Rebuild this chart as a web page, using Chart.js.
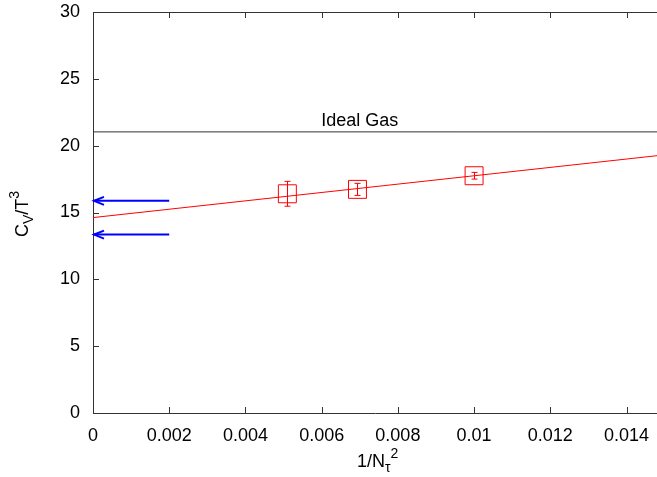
<!DOCTYPE html>
<html>
<head>
<meta charset="utf-8">
<script src="https://cdn.jsdelivr.net/npm/chart.js@4/dist/chart.umd.min.js"></script>
<style>
html, body { margin: 0; padding: 0; background: #fff; overflow: hidden; }
</style>
</head>
<body>
<canvas id="cvChart" width="657" height="477"></canvas>
<script>
// lattice points: 1/N_tau^2 for N_tau = 14, 12, 10
const invNtau2 = [0.0051, 0.00694, 0.01];
const cvT3 = [16.4, 16.73, 17.75];
const cvErr = [0.93, 0.45, 0.25];

// linear fit line (end points)
const fitX = [0, 0.0148];
const fitY = [14.62, 19.25];

const idealGas = 21.03;
const arrowY = [15.87, 13.35];
const arrowX = [0.002, 0];

const xTicks = [0, 0.002, 0.004, 0.006, 0.008, 0.01, 0.012, 0.014];
const xTickLabels = ['0', '0.002', '0.004', '0.006', '0.008', '0.01', '0.012', '0.014'];
const yTicks = [0, 5, 10, 15, 20, 25, 30];
const yTickLabels = ['0', '5', '10', '15', '20', '25', '30'];

const FONT = 'Liberation Sans, Arial, sans-serif';
const RED = 'rgb(255,0,0)';
const BLUE = 'rgb(0,0,255)';

const ctx = document.getElementById('cvChart').getContext('2d');

// inward ticks, top border, error bars, arrow heads, text labels
const extras = {
    id: 'extras',
    beforeDatasetsDraw(chart) {
        const c = chart.ctx, a = chart.chartArea;
        const xs = chart.scales.x, ys = chart.scales.y;
        c.save();
        c.strokeStyle = '#333';
        c.lineWidth = 1;
        c.beginPath();
        c.moveTo(a.left, a.top + 0.5);
        c.lineTo(a.right, a.top + 0.5);
        xTicks.forEach(v => {
            const px = Math.round(xs.getPixelForValue(v)) + 0.5;
            c.moveTo(px, a.bottom); c.lineTo(px, a.bottom - 6);
            c.moveTo(px, a.top); c.lineTo(px, a.top + 6);
        });
        yTicks.forEach(v => {
            const py = Math.round(ys.getPixelForValue(v)) + 0.5;
            c.moveTo(a.left, py); c.lineTo(a.left + 6, py);
        });
        c.stroke();
        c.restore();
    },
    afterDatasetsDraw(chart) {
        const c = chart.ctx;
        const xs = chart.scales.x, ys = chart.scales.y;
        c.save();
        // error bars
        c.strokeStyle = RED;
        c.lineWidth = 1;
        c.beginPath();
        invNtau2.forEach((x, i) => {
            const px = Math.round(xs.getPixelForValue(x)) + 0.5;
            const top = ys.getPixelForValue(cvT3[i] + cvErr[i]);
            const bot = ys.getPixelForValue(cvT3[i] - cvErr[i]);
            c.moveTo(px, top); c.lineTo(px, bot);
            c.moveTo(px - 3, top); c.lineTo(px + 3, top);
            c.moveTo(px - 3, bot); c.lineTo(px + 3, bot);
        });
        c.stroke();
        // arrow heads
        c.strokeStyle = BLUE;
        c.lineWidth = 2;
        c.beginPath();
        arrowY.forEach(y => {
            const tx = xs.getPixelForValue(arrowX[1]);
            const py = ys.getPixelForValue(y);
            c.moveTo(tx + 11, py - 4); c.lineTo(tx + 1, py); c.lineTo(tx + 11, py + 4);
        });
        c.stroke();
        // ideal gas label
        c.fillStyle = '#000';
        c.font = '18px ' + FONT;
        c.textAlign = 'center';
        c.textBaseline = 'alphabetic';
        c.fillText('Ideal Gas', xs.getPixelForValue(0.007), ys.getPixelForValue(idealGas) - 6);
        c.restore();
        drawRich(c, [['1/N', 18, 0], ['\u03c4', 14, 5], ['2', 14, -9]], 357, 467, 0);
        drawRich(c, [['C', 18, 0], ['V', 14, 5], ['/T', 18, 0], ['3', 14, -9]], 28, 237, -Math.PI / 2);
    }
};

function drawRich(c, parts, x, y, rot) {
    c.save();
    c.translate(x, y);
    c.rotate(rot);
    c.fillStyle = '#000';
    c.textAlign = 'left';
    c.textBaseline = 'alphabetic';
    let cx = 0;
    parts.forEach(p => {
        c.font = p[1] + 'px ' + FONT;
        c.fillText(p[0], cx, p[2]);
        cx += c.measureText(p[0]).width;
    });
    c.restore();
}

const cvChart = new Chart(ctx, {
    type: 'scatter',
    data: {
        datasets: [
            {
                data: [{ x: fitX[0], y: idealGas }, { x: fitX[1], y: idealGas }],
                showLine: true,
                borderColor: '#333',
                borderWidth: 1,
                pointRadius: 0
            },
            {
                data: fitX.map((x, i) => ({ x: x, y: fitY[i] })),
                showLine: true,
                borderColor: RED,
                borderWidth: 1,
                pointRadius: 0
            },
            {
                data: arrowX.map(x => ({ x: x, y: arrowY[0] })),
                showLine: true,
                borderColor: BLUE,
                borderWidth: 2,
                pointRadius: 0
            },
            {
                data: arrowX.map(x => ({ x: x, y: arrowY[1] })),
                showLine: true,
                borderColor: BLUE,
                borderWidth: 2,
                pointRadius: 0
            },
            {
                data: invNtau2.map((x, i) => ({ x: x, y: cvT3[i] })),
                showLine: false,
                pointStyle: 'rect',
                pointRadius: 12.7,
                pointBorderWidth: 1,
                pointBorderColor: RED,
                pointBackgroundColor: 'rgba(0,0,0,0)'
            }
        ]
    },
    options: {
        responsive: false,
        animation: false,
        layout: { autoPadding: false, padding: { top: 12, right: 0, left: 0, bottom: 0 } },
        plugins: {
            legend: { display: false },
            tooltip: { enabled: false }
        },
        scales: {
            x: {
                type: 'linear',
                min: 0,
                max: 0.0148,
                grid: { display: false, drawTicks: false },
                border: { display: true, color: '#333', width: 1 },
                afterBuildTicks: s => { s.ticks = xTicks.map(v => ({ value: v })); },
                afterFit: s => { s.height = 64; s.paddingLeft = 0; s.paddingRight = 0; },
                ticks: {
                    autoSkip: false,
                    maxRotation: 0,
                    padding: 12,
                    color: '#000',
                    font: { family: FONT, size: 18 },
                    callback: (v, i) => xTickLabels[i]
                }
            },
            y: {
                type: 'linear',
                min: 0,
                max: 30,
                grid: { display: false, drawTicks: false },
                border: { display: true, color: '#333', width: 1 },
                afterBuildTicks: s => { s.ticks = yTicks.map(v => ({ value: v })); },
                afterFit: s => { s.width = 93; s.paddingTop = 0; s.paddingBottom = 0; },
                ticks: {
                    autoSkip: false,
                    padding: 13,
                    color: '#000',
                    font: { family: FONT, size: 18 },
                    callback: (v, i) => yTickLabels[i]
                }
            }
        }
    },
    plugins: [extras]
});
</script>
</body>
</html>
